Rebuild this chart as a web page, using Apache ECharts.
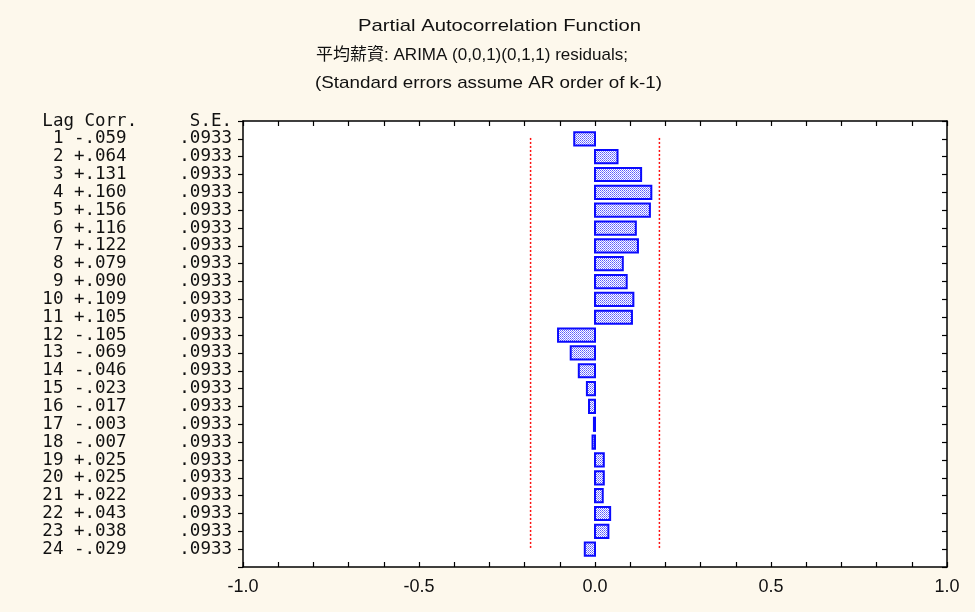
<!DOCTYPE html>
<html>
<head>
<meta charset="utf-8">
<script src="https://cdn.jsdelivr.net/npm/echarts@6/dist/echarts.min.js"></script>
<style>
  html, body { margin: 0; padding: 0; background: #fdf8ec; }
  #chart { width: 975px; height: 612px; }
</style>
</head>
<body>
<div id="chart"></div>
<script>
// Partial autocorrelations of the residuals, lags 1..24
const lags = [1, 2, 3, 4, 5, 6, 7, 8, 9, 10, 11, 12, 13, 14, 15, 16, 17, 18, 19, 20, 21, 22, 23, 24];
const corr = [-0.059, 0.064, 0.131, 0.160, 0.156, 0.116, 0.122, 0.079, 0.090, 0.109, 0.105, -0.105,
              -0.069, -0.046, -0.023, -0.017, -0.003, -0.007, 0.025, 0.025, 0.022, 0.043, 0.038, -0.029];
const stdErr = [0.0933, 0.0933, 0.0933, 0.0933, 0.0933, 0.0933, 0.0933, 0.0933, 0.0933, 0.0933, 0.0933, 0.0933,
                0.0933, 0.0933, 0.0933, 0.0933, 0.0933, 0.0933, 0.0933, 0.0933, 0.0933, 0.0933, 0.0933, 0.0933];
// Confidence limits (about ±1.96 S.E.)
const confLimits = [-0.183, 0.183];
const xTicks = [-1.0, -0.5, 0.0, 0.5, 1.0];
const tableHeader = 'Lag Corr.     S.E.';
const titleLines = [
  'Partial Autocorrelation Function',
  '平均薪資: ARIMA (0,0,1)(0,1,1) residuals;',
  '(Standard errors assume AR order of k-1)'
];

// Text of each table row: lag, signed correlation, standard error
function fmtSigned(v) {
  return (v < 0 ? '-' : '+') + Math.abs(v).toFixed(3).slice(1);
}
function fmtSE(v) {
  return v.toFixed(4).slice(1);
}
const rowText = lags.map((l, i) => {
  const lag = String(l).padStart(2, ' ');
  return lag + ' ' + fmtSigned(corr[i]) + '     ' + fmtSE(stdErr[i]);
});

// Cross-hatch fill used for the bars
const hatch = document.createElement('canvas');
hatch.width = 4; hatch.height = 4;
(function () {
  const c = hatch.getContext('2d');
  c.fillStyle = '#ffffff';
  c.fillRect(0, 0, 4, 4);
  for (let x = 0; x < 4; x++) {
    for (let y = 0; y < 4; y++) {
      if ((x + y) % 2 === 0) {
        c.fillStyle = (x % 2 === 0) ? '#5a5aff' : '#8a8aff';
        c.fillRect(x, y, 1, 1);
      }
    }
  }
})();

// Horizontal scale needed for each title line to reach its drawn width
const measureCtx = document.createElement('canvas').getContext('2d');
const titleFont = '17px "Liberation Sans", Arial, "Noto Sans CJK TC", sans-serif';
function scaleFor(text, target) {
  measureCtx.font = titleFont;
  return target / measureCtx.measureText(text).width;
}
const titleLayout = [
  { left: 358, y: 26, width: 283 },
  { left: 316, y: 55, width: 312 },
  { left: 315, y: 83, width: 347 }
];

const barData = lags.map((l, i) => [l, corr[i]]);
const limitLines = confLimits.map(v => ({
  type: 'line',
  xAxisIndex: 0,
  yAxisIndex: 0,
  data: [[v, 0.95], [v, 24.05]],
  symbol: 'none',
  silent: true,
  lineStyle: { color: '#ff1010', width: 1.5, type: [2, 2] },
  z: 3
}));

const chart = echarts.init(document.getElementById('chart'), null, { renderer: 'canvas' });

const xAxisCommon = {
  type: 'value',
  min: xTicks[0],
  max: xTicks[xTicks.length - 1],
  interval: 0.5,
  splitLine: { show: false },
  axisLine: { show: true, onZero: false, lineStyle: { color: '#000', width: 1.5 } },
  axisTick: { show: true, inside: true, length: 5, lineStyle: { color: '#000', width: 1.2 } },
  minorTick: { show: true, splitNumber: 5, length: 5, lineStyle: { color: '#000', width: 1.2 } },
  minorSplitLine: { show: false }
};
const yAxisCommon = {
  type: 'value',
  min: 0,
  max: 25,
  interval: 1,
  inverse: true,
  splitLine: { show: false },
  axisLine: { show: true, onZero: false, lineStyle: { color: '#000', width: 1.5 } },
  axisTick: { show: true, length: 5, lineStyle: { color: '#000', width: 1.2 } }
};

chart.setOption({
  backgroundColor: '#fdf8ec',
  animation: false,
  grid: {
    left: 243, right: 28, top: 121, bottom: 45,
    show: true, backgroundColor: '#ffffff', borderWidth: 0
  },
  graphic: titleLines.map((t, i) => ({
    type: 'text',
    x: titleLayout[i].left,
    y: titleLayout[i].y,
    scaleX: scaleFor(t, titleLayout[i].width),
    style: {
      text: t,
      font: titleFont,
      fill: '#111111',
      textAlign: 'left',
      textVerticalAlign: 'middle'
    }
  })),
  xAxis: [
    Object.assign({}, xAxisCommon, {
      position: 'bottom',
      axisLabel: {
        show: true,
        margin: 11,
        fontFamily: '"Liberation Sans", Arial, sans-serif',
        fontSize: 18,
        color: '#111',
        formatter: v => v.toFixed(1)
      }
    }),
    Object.assign({}, xAxisCommon, {
      position: 'top',
      axisLabel: { show: false }
    })
  ],
  yAxis: [
    Object.assign({}, yAxisCommon, {
      position: 'left',
      axisTick: { show: true, inside: false, length: 5, lineStyle: { color: '#000', width: 1.2 } },
      axisLabel: {
        show: true,
        margin: 11,
        fontFamily: '"DejaVu Sans Mono", monospace',
        fontSize: 17.5,
        color: '#111',
        showMinLabel: true,
        showMaxLabel: true,
        formatter: v => (v === 0 ? tableHeader : (v >= 1 && v <= lags.length ? rowText[v - 1] : ''))
      }
    }),
    Object.assign({}, yAxisCommon, {
      position: 'right',
      axisTick: { show: true, inside: true, length: 5, lineStyle: { color: '#000', width: 1.2 } },
      axisLabel: { show: false }
    })
  ],
  series: [
    {
      type: 'custom',
      xAxisIndex: 0,
      yAxisIndex: 0,
      encode: { x: 1, y: 0 },
      data: barData,
      z: 4,
      renderItem: function (params, api) {
        const lag = api.value(0);
        const v = api.value(1);
        const p0 = api.coord([0, lag]);
        const p1 = api.coord([v, lag]);
        const h = api.size([0, 1])[1] * 0.74;
        const x = Math.min(p0[0], p1[0]);
        const w = Math.abs(p1[0] - p0[0]);
        return {
          type: 'rect',
          shape: { x: x, y: p0[1] - h / 2, width: w, height: h },
          style: {
            fill: { image: hatch, repeat: 'repeat' },
            stroke: '#0a0aff',
            lineWidth: 2
          }
        };
      }
    }
  ].concat(limitLines)
});
</script>
</body>
</html>
